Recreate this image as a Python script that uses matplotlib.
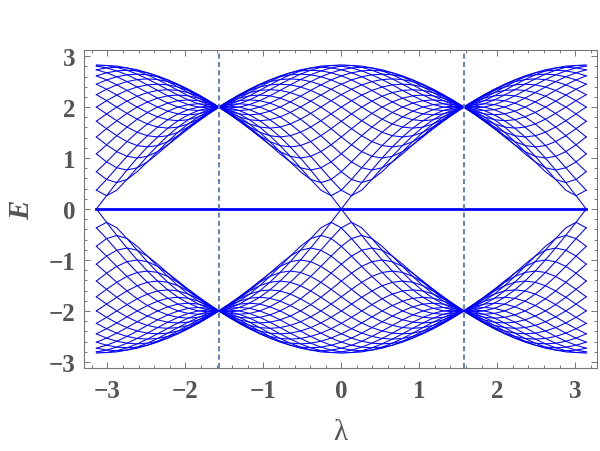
import numpy as np
import matplotlib
matplotlib.use("Agg")
import matplotlib.pyplot as plt
from matplotlib.ticker import MultipleLocator

# lambda samples, -pi .. pi in steps of pi/24
lam = [-3.1416, -3.0107, -2.8798, -2.7489, -2.6180, -2.4871, -2.3562, -2.2253,
       -2.0944, -1.9635, -1.8326, -1.7017, -1.5708, -1.4399, -1.3090, -1.1781,
       -1.0472, -0.9163, -0.7854, -0.6545, -0.5236, -0.3927, -0.2618, -0.1309,
       0.0, 0.1309, 0.2618, 0.3927, 0.5236, 0.6545, 0.7854, 0.9163, 1.0472,
       1.1781, 1.3090, 1.4399, 1.5708, 1.7017, 1.8326, 1.9635, 2.0944, 2.2253,
       2.3562, 2.4871, 2.6180, 2.7489, 2.8798, 3.0107, 3.1416]

# upper-band levels E(lambda); lev01..lev11 also appear mirrored in lambda
lev00 = [2.828, 2.816, 2.781, 2.723, 2.646, 2.553, 2.449, 2.341, 2.236, 2.141, 2.066, 2.017, 2.000, 2.017, 2.066, 2.141, 2.236, 2.341, 2.449, 2.553, 2.646, 2.723, 2.781, 2.816,
         2.828, 2.816, 2.781, 2.723, 2.646, 2.553, 2.449, 2.341, 2.236, 2.141, 2.066, 2.017, 2.000, 2.017, 2.066, 2.141, 2.236, 2.341, 2.449, 2.553, 2.646, 2.723, 2.781, 2.816, 2.828]
lev01 = [2.804, 2.768, 2.710, 2.633, 2.540, 2.436, 2.327, 2.221, 2.126, 2.049, 2.000, 1.983, 2.000, 2.049, 2.126, 2.221, 2.327, 2.436, 2.540, 2.633, 2.710, 2.768, 2.804, 2.816,
         2.804, 2.768, 2.710, 2.633, 2.540, 2.436, 2.327, 2.221, 2.126, 2.049, 2.000, 1.983, 2.000, 2.049, 2.126, 2.221, 2.327, 2.436, 2.540, 2.633, 2.710, 2.768, 2.804, 2.816, 2.804]
lev02 = [2.732, 2.673, 2.595, 2.500, 2.394, 2.284, 2.175, 2.078, 2.000, 1.949, 1.932, 1.949, 2.000, 2.078, 2.175, 2.284, 2.394, 2.500, 2.595, 2.673, 2.732, 2.768, 2.781, 2.768,
         2.732, 2.673, 2.595, 2.500, 2.394, 2.284, 2.175, 2.078, 2.000, 1.949, 1.932, 1.949, 2.000, 2.078, 2.175, 2.284, 2.394, 2.500, 2.595, 2.673, 2.732, 2.768, 2.781, 2.768, 2.732]
lev03 = [2.613, 2.533, 2.436, 2.327, 2.213, 2.101, 2.000, 1.919, 1.866, 1.848, 1.866, 1.919, 2.000, 2.101, 2.213, 2.327, 2.436, 2.533, 2.613, 2.673, 2.710, 2.723, 2.710, 2.673,
         2.613, 2.533, 2.436, 2.327, 2.213, 2.101, 2.000, 1.919, 1.866, 1.848, 1.866, 1.919, 2.000, 2.101, 2.213, 2.327, 2.436, 2.533, 2.613, 2.673, 2.710, 2.723, 2.710, 2.673, 2.613]
lev04 = [2.449, 2.349, 2.236, 2.117, 2.000, 1.894, 1.808, 1.752, 1.732, 1.752, 1.808, 1.894, 2.000, 2.117, 2.236, 2.349, 2.449, 2.533, 2.595, 2.633, 2.646, 2.633, 2.595, 2.533,
         2.449, 2.349, 2.236, 2.117, 2.000, 1.894, 1.808, 1.752, 1.732, 1.752, 1.808, 1.894, 2.000, 2.117, 2.236, 2.349, 2.449, 2.533, 2.595, 2.633, 2.646, 2.633, 2.595, 2.533, 2.449]
lev05 = [2.244, 2.126, 2.000, 1.876, 1.762, 1.669, 1.608, 1.587, 1.608, 1.669, 1.762, 1.876, 2.000, 2.126, 2.244, 2.349, 2.436, 2.500, 2.540, 2.553, 2.540, 2.500, 2.436, 2.349,
         2.244, 2.126, 2.000, 1.876, 1.762, 1.669, 1.608, 1.587, 1.608, 1.669, 1.762, 1.876, 2.000, 2.126, 2.244, 2.349, 2.436, 2.500, 2.540, 2.553, 2.540, 2.500, 2.436, 2.349, 2.244]
lev06 = [2.000, 1.866, 1.732, 1.608, 1.506, 1.438, 1.414, 1.438, 1.506, 1.608, 1.732, 1.866, 2.000, 2.126, 2.236, 2.327, 2.394, 2.436, 2.449, 2.436, 2.394, 2.327, 2.236, 2.126,
         2.000, 1.866, 1.732, 1.608, 1.506, 1.438, 1.414, 1.438, 1.506, 1.608, 1.732, 1.866, 2.000, 2.126, 2.236, 2.327, 2.394, 2.436, 2.449, 2.436, 2.394, 2.327, 2.236, 2.126, 2.000]
lev07 = [1.722, 1.576, 1.438, 1.323, 1.245, 1.218, 1.245, 1.323, 1.438, 1.576, 1.722, 1.866, 2.000, 2.117, 2.213, 2.284, 2.327, 2.341, 2.327, 2.284, 2.213, 2.117, 2.000, 1.866,
         1.722, 1.576, 1.438, 1.323, 1.245, 1.218, 1.245, 1.323, 1.438, 1.576, 1.722, 1.866, 2.000, 2.117, 2.213, 2.284, 2.327, 2.341, 2.327, 2.284, 2.213, 2.117, 2.000, 1.866, 1.722]
lev08 = [1.414, 1.259, 1.126, 1.034, 1.000, 1.034, 1.126, 1.259, 1.414, 1.576, 1.732, 1.876, 2.000, 2.101, 2.175, 2.221, 2.236, 2.221, 2.175, 2.101, 2.000, 1.876, 1.732, 1.576,
         1.414, 1.259, 1.126, 1.034, 1.000, 1.034, 1.126, 1.259, 1.414, 1.576, 1.732, 1.876, 2.000, 2.101, 2.175, 2.221, 2.236, 2.221, 2.175, 2.101, 2.000, 1.876, 1.732, 1.576, 1.414]
lev09 = [1.082, 0.924, 0.809, 0.765, 0.809, 0.924, 1.082, 1.259, 1.438, 1.608, 1.762, 1.894, 2.000, 2.078, 2.126, 2.141, 2.126, 2.078, 2.000, 1.894, 1.762, 1.608, 1.438, 1.259,
         1.082, 0.924, 0.809, 0.765, 0.809, 0.924, 1.082, 1.259, 1.438, 1.608, 1.762, 1.894, 2.000, 2.078, 2.126, 2.141, 2.126, 2.078, 2.000, 1.894, 1.762, 1.608, 1.438, 1.259, 1.082]
lev10 = [0.732, 0.580, 0.518, 0.580, 0.732, 0.924, 1.126, 1.323, 1.506, 1.669, 1.808, 1.919, 2.000, 2.049, 2.066, 2.049, 2.000, 1.919, 1.808, 1.669, 1.506, 1.323, 1.126, 0.924,
         0.732, 0.580, 0.518, 0.580, 0.732, 0.924, 1.126, 1.323, 1.506, 1.669, 1.808, 1.919, 2.000, 2.049, 2.066, 2.049, 2.000, 1.919, 1.808, 1.669, 1.506, 1.323, 1.126, 0.924, 0.732]
lev11 = [0.369, 0.261, 0.369, 0.580, 0.809, 1.034, 1.245, 1.438, 1.608, 1.752, 1.866, 1.949, 2.000, 2.017, 2.000, 1.949, 1.866, 1.752, 1.608, 1.438, 1.245, 1.034, 0.809, 0.580,
         0.369, 0.261, 0.369, 0.580, 0.809, 1.034, 1.245, 1.438, 1.608, 1.752, 1.866, 1.949, 2.000, 2.017, 2.000, 1.949, 1.866, 1.752, 1.608, 1.438, 1.245, 1.034, 0.809, 0.580, 0.369]
lev12 = [0.000, 0.261, 0.518, 0.765, 1.000, 1.218, 1.414, 1.587, 1.732, 1.848, 1.932, 1.983, 2.000, 1.983, 1.932, 1.848, 1.732, 1.587, 1.414, 1.218, 1.000, 0.765, 0.518, 0.261,
         0.000, 0.261, 0.518, 0.765, 1.000, 1.218, 1.414, 1.587, 1.732, 1.848, 1.932, 1.983, 2.000, 1.983, 1.932, 1.848, 1.732, 1.587, 1.414, 1.218, 1.000, 0.765, 0.518, 0.261, 0.000]

zero_mode = [0.0] * len(lam)
critical = [-1.5708, 1.5708]

single = [lev00, lev12]
paired = [lev01, lev02, lev03, lev04, lev05, lev06, lev07, lev08, lev09, lev10, lev11]

blue = "#0000ff"
grey = "#555555"
serif = ["Liberation Serif", "DejaVu Serif"]

fig = plt.figure(figsize=(6, 4.52), dpi=100)
ax = fig.add_axes([84 / 600, 83 / 452, 513 / 600, 318 / 452])

x = np.array(lam)
for e in single + paired:
    e = np.array(e)
    ax.plot(x, e, color=blue, lw=0.75)
    ax.plot(x, -e, color=blue, lw=0.75)
for e in paired:
    e = np.array(e)
    ax.plot(-x, e, color=blue, lw=0.75)
    ax.plot(-x, -e, color=blue, lw=0.75)

ax.plot(x, zero_mode, color=blue, lw=2.0)
for c in critical:
    ax.axvline(c, color="#5e81b5", lw=1.4, ls=(0, (2.6, 1.7)))

ax.set_xlim(-3.30, 3.28)
ax.set_ylim(-3.12, 3.12)
ax.xaxis.set_major_locator(MultipleLocator(1))
ax.xaxis.set_minor_locator(MultipleLocator(0.2))
ax.yaxis.set_major_locator(MultipleLocator(1))
ax.yaxis.set_minor_locator(MultipleLocator(0.2))
ax.tick_params(which="both", direction="in", top=True, right=True,
               color="#777777", width=0.7)
ax.tick_params(which="major", length=4.5)
ax.tick_params(which="minor", length=2.5)
ax.tick_params(axis="x", pad=8)
ax.tick_params(axis="y", pad=6)
for s in ax.spines.values():
    s.set_color("#777777")
    s.set_linewidth(0.8)

for lab in ax.get_xticklabels() + ax.get_yticklabels():
    lab.set_family(serif)
    lab.set_fontweight("bold")
    lab.set_fontsize(18)
    lab.set_color(grey)

ax.set_xlabel("λ", family=serif, fontsize=21, color=grey, labelpad=12)
ax.set_ylabel("E", family=serif, fontsize=21, color=grey, style="italic",
              fontweight="bold", labelpad=10)

fig.savefig("out.png", dpi=100)
